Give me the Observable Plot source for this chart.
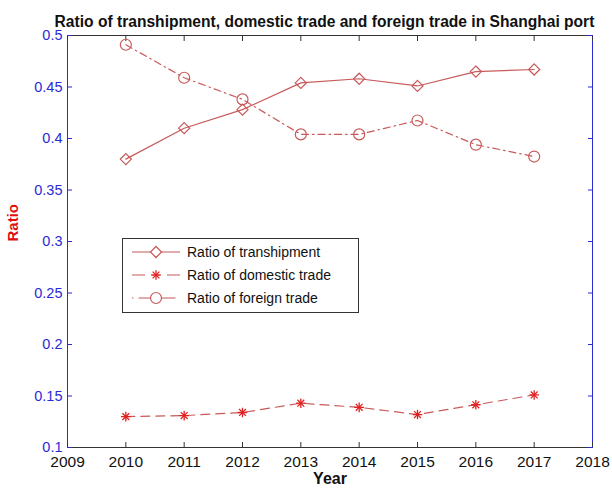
<!DOCTYPE html>
<html><head>
<meta charset="utf-8">
<script src="https://cdn.jsdelivr.net/npm/d3@7"></script>
<script src="https://cdn.jsdelivr.net/npm/@observablehq/plot@0.6"></script>
<style>body{margin:0;background:#fff}</style>
</head><body><div id="chart"></div>
<script>
const years = [2010, 2011, 2012, 2013, 2014, 2015, 2016, 2017];
const transhipment = [0.380, 0.410, 0.428, 0.454, 0.458, 0.451, 0.465, 0.467];
const domestic = [0.130, 0.131, 0.134, 0.143, 0.139, 0.132, 0.1415, 0.151];
const foreign = [0.491, 0.459, 0.438, 0.404, 0.404, 0.4175, 0.394, 0.3825];
const xTicks = [2009, 2010, 2011, 2012, 2013, 2014, 2015, 2016, 2017, 2018];
const yTicks = [0.1, 0.15, 0.2, 0.25, 0.3, 0.35, 0.4, 0.45, 0.5];
const seriesNames = ["Ratio of transhipment", "Ratio of domestic trade", "Ratio of foreign trade"];
const titleText = "Ratio of transhipment, domestic trade and foreign trade in Shanghai port";

const lineColor = "#c85a5a";
const axisBlue = "#2a2ad8";
const font = "'Liberation Sans', Arial, sans-serif";

const W = 612, H = 491, mL = 67, mR = 20, mT = 35, mB = 44;
const tick = 5;

const tData = years.map((y, i) => ({year: y, v: transhipment[i]}));
const dData = years.map((y, i) => ({year: y, v: domestic[i]}));
const fData = years.map((y, i) => ({year: y, v: foreign[i]}));
const blank = () => "";

const svg = Plot.plot({
  width: W, height: H,
  marginLeft: mL, marginRight: mR, marginTop: mT, marginBottom: mB,
  style: {fontFamily: font, background: "#fff", overflow: "visible"},
  x: {domain: [2009, 2018]},
  y: {domain: [0.1, 0.5]},
  marks: [
    Plot.ruleY([0.1, 0.5], {stroke: "#333", strokeWidth: 1}),
    Plot.ruleX([2009, 2018], {stroke: axisBlue, strokeWidth: 1}),
    // inward ticks (standard outward ticks shifted inside the frame)
    Plot.axisX({anchor: "bottom", ticks: xTicks, tickSize: tick, dy: -tick, tickFormat: blank, stroke: "#333", label: null}),
    Plot.axisX({anchor: "top", ticks: xTicks, tickSize: tick, dy: tick, tickFormat: blank, stroke: "#333", label: null}),
    Plot.axisY({anchor: "left", ticks: yTicks, tickSize: tick, dx: tick, tickFormat: blank, stroke: axisBlue, label: null}),
    Plot.axisY({anchor: "right", ticks: yTicks, tickSize: tick, dx: -tick, tickFormat: blank, stroke: axisBlue, label: null}),
    // tick labels
    Plot.axisX({ticks: xTicks, tickFormat: d => String(d), tickSize: 0, tickPadding: 8, fontSize: 15.5, fill: "#111", label: null}),
    Plot.axisY({ticks: yTicks, tickFormat: d => String(Math.round(d * 100) / 100), tickSize: 0, tickPadding: 5, fontSize: 14.5, fill: axisBlue, label: null}),
    // series
    Plot.line(tData, {x: "year", y: "v", stroke: lineColor, strokeWidth: 1.2}),
    Plot.line(dData, {x: "year", y: "v", stroke: lineColor, strokeWidth: 1.2, strokeDasharray: "9,6"}),
    Plot.line(fData, {x: "year", y: "v", stroke: lineColor, strokeWidth: 1.2, strokeDasharray: "7,4,1.5,4"}),
    Plot.dot(tData, {x: "year", y: "v", symbol: "diamond2", r: 5, stroke: lineColor, fill: "none", strokeWidth: 1.2}),
    Plot.dot(fData, {x: "year", y: "v", symbol: "circle", r: 5.5, stroke: lineColor, fill: "none", strokeWidth: 1.2}),
    Plot.dot(dData, {x: "year", y: "v", symbol: "plus", r: 3.2, stroke: "#e02020", fill: "none", strokeWidth: 1.3}),
    Plot.dot(dData, {x: "year", y: "v", symbol: "times", r: 3.2, stroke: "#e02020", fill: "none", strokeWidth: 1.3}),
    // titles
    Plot.text([titleText], {frameAnchor: "top", dy: -20, dx: -5.5, fontWeight: "bold", fontSize: 15.6, fill: "#111"}),
    Plot.text(["Ratio"], {frameAnchor: "left", dx: -54, rotate: -90, fill: "#e01010", fontWeight: "bold", fontSize: 15}),
    Plot.text(["Year"], {frameAnchor: "bottom", dy: 36, fill: "#111", fontWeight: "bold", fontSize: 16})
  ]
});

// Legend
const lg = d3.select(svg).append("g").attr("font-family", font).attr("font-size", 14).attr("text-anchor", "start");
lg.append("rect").attr("x", 122.5).attr("y", 238.5).attr("width", 236).attr("height", 74)
  .attr("fill", "#fff").attr("stroke", "#333").attr("stroke-width", 1);
const rowsY = [252, 275, 298];
const dashes = [null, "13,22", "1.5,5,37,5,1.5"];
seriesNames.forEach((name, i) => {
  const y = rowsY[i];
  lg.append("line").attr("x1", 132).attr("x2", 180).attr("y1", y).attr("y2", y)
    .attr("stroke", lineColor).attr("stroke-width", 1.2).attr("stroke-dasharray", dashes[i]);
  if (i === 0) {
    lg.append("path").attr("d", d3.symbol(d3.symbolDiamond2, 78)()).attr("transform", `translate(156,${y})`)
      .attr("fill", "#fff").attr("stroke", lineColor).attr("stroke-width", 1.2);
  } else if (i === 1) {
    lg.append("path").attr("d", d3.symbol(d3.symbolPlus, 32)()).attr("transform", `translate(156,${y})`)
      .attr("fill", "none").attr("stroke", "#e02020").attr("stroke-width", 1.3);
    lg.append("path").attr("d", d3.symbol(d3.symbolTimes, 32)()).attr("transform", `translate(156,${y})`)
      .attr("fill", "none").attr("stroke", "#e02020").attr("stroke-width", 1.3);
  } else {
    lg.append("circle").attr("cx", 156).attr("cy", y).attr("r", 5.5)
      .attr("fill", "#fff").attr("stroke", lineColor).attr("stroke-width", 1.2);
  }
  lg.append("text").attr("x", 187).attr("y", y).attr("dy", "0.35em").attr("fill", "#111").text(name);
});

document.getElementById("chart").appendChild(svg);
</script>
</body></html>
